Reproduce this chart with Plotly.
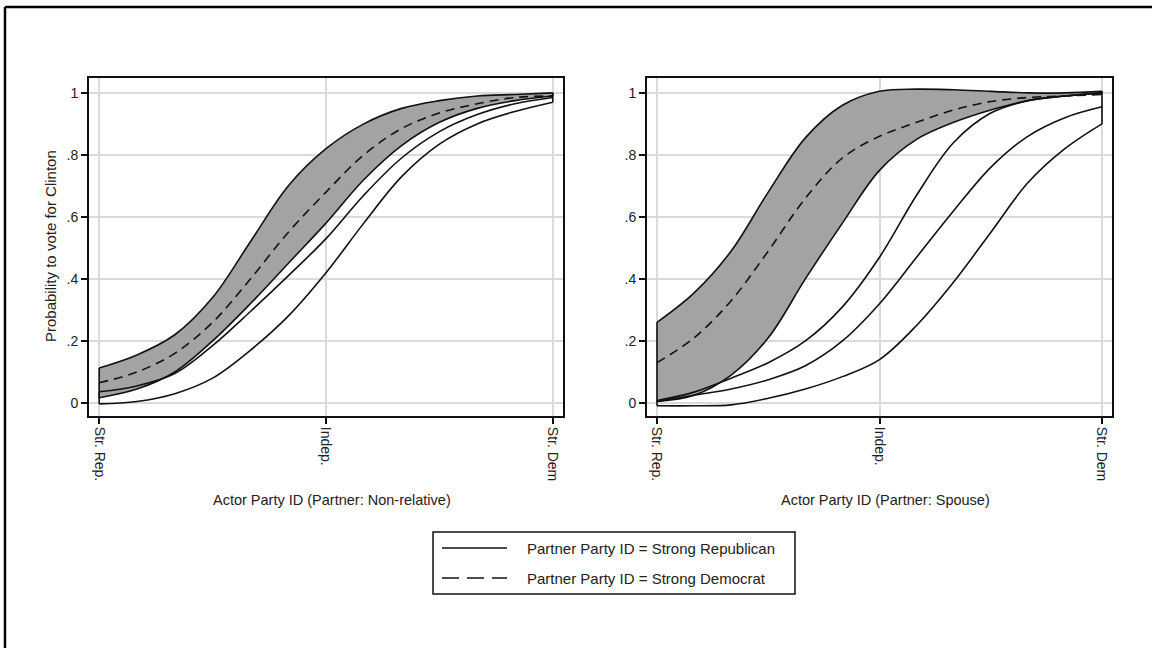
import plotly.graph_objects as go

W, H = 1154, 648

# Actor party ID grid (1 = Str. Rep., 4 = Indep., 7 = Str. Dem)
x_vals = [1, 1.5, 2, 2.5, 3, 3.5, 4, 4.5, 5, 5.5, 6, 6.5, 7]
tick_vals = [1, 4, 7]
tick_text = ["Str. Rep.", "Indep.", "Str. Dem"]
y_ticks = [0, 0.2, 0.4, 0.6, 0.8, 1]
y_tick_text = ["0", ".2", ".4", ".6", ".8", "1"]

# Panel 1: Partner = Non-relative
nr_dem_upper = [0.113, 0.155, 0.22, 0.34, 0.52, 0.70, 0.82, 0.90, 0.95, 0.975, 0.99, 0.995, 1.0]
nr_dem_mid = [0.065, 0.10, 0.16, 0.26, 0.40, 0.55, 0.68, 0.80, 0.885, 0.935, 0.965, 0.985, 0.99]
nr_dem_lower = [0.017, 0.045, 0.10, 0.20, 0.32, 0.45, 0.58, 0.72, 0.83, 0.905, 0.95, 0.975, 0.99]
nr_rep_upper = [0.036, 0.055, 0.095, 0.185, 0.295, 0.41, 0.53, 0.67, 0.79, 0.875, 0.93, 0.965, 0.985]
nr_rep_lower = [-0.003, 0.005, 0.03, 0.08, 0.17, 0.28, 0.42, 0.58, 0.73, 0.835, 0.90, 0.94, 0.97]

# Panel 2: Partner = Spouse
sp_dem_upper = [0.26, 0.355, 0.49, 0.68, 0.855, 0.96, 1.005, 1.012, 1.01, 1.005, 1.0, 1.0, 1.005]
sp_dem_mid = [0.13, 0.21, 0.33, 0.49, 0.66, 0.79, 0.86, 0.905, 0.945, 0.972, 0.985, 0.99, 0.995]
sp_dem_lower = [0.005, 0.025, 0.09, 0.21, 0.40, 0.58, 0.75, 0.85, 0.905, 0.945, 0.975, 0.99, 1.0]
sp_rep_upper = [0.008, 0.035, 0.08, 0.13, 0.20, 0.31, 0.47, 0.67, 0.84, 0.935, 0.975, 0.99, 1.0]
sp_rep_mid = [0.005, 0.025, 0.045, 0.075, 0.12, 0.20, 0.32, 0.47, 0.62, 0.76, 0.86, 0.92, 0.955]
sp_rep_lower = [-0.009, -0.009, -0.006, 0.015, 0.045, 0.085, 0.14, 0.25, 0.39, 0.55, 0.71, 0.82, 0.90]

panels = [
    dict(dem=(nr_dem_lower, nr_dem_mid, nr_dem_upper), rep=(nr_rep_lower, None, nr_rep_upper),
         xtitle="Actor Party ID (Partner: Non-relative)"),
    dict(dem=(sp_dem_lower, sp_dem_mid, sp_dem_upper), rep=(sp_rep_lower, sp_rep_mid, sp_rep_upper),
         xtitle="Actor Party ID (Partner: Spouse)"),
]

LINE = "#111111"
GRAY = "#a3a3a3"
GRID = "#dadada"
LW = 1.6
SM = 1.0
FONT_FAMILY = "Liberation Sans, Arial, sans-serif"

fig = go.Figure()

def px_x(p):
    return p / W

def px_y(p):
    return 1 - p / H

domains = [(89, 563), (647, 1112)]
y_top, y_bot = 78, 416

for i, p in enumerate(panels):
    xa = "x" if i == 0 else "x2"
    ya = "y" if i == 0 else "y2"
    lo, mid, up = p["dem"]
    rlo, rmid, rup = p["rep"]
    common = dict(xaxis=xa, yaxis=ya, showlegend=False, hoverinfo="skip")
    # Democrat partner band (gray)
    fig.add_trace(go.Scatter(x=x_vals, y=lo, mode="lines",
                             line=dict(color=LINE, width=LW, shape="spline", smoothing=SM), **common))
    fig.add_trace(go.Scatter(x=x_vals, y=up, mode="lines", fill="tonexty", fillcolor=GRAY,
                             line=dict(color=LINE, width=LW, shape="spline", smoothing=SM), **common))
    fig.add_trace(go.Scatter(x=[x_vals[0], x_vals[0], None, x_vals[-1], x_vals[-1]],
                             y=[lo[0], up[0], None, lo[-1], up[-1]], mode="lines",
                             line=dict(color=LINE, width=LW), **common))
    # Republican partner band (outline)
    fig.add_trace(go.Scatter(x=x_vals, y=rlo, mode="lines",
                             line=dict(color=LINE, width=LW, shape="spline", smoothing=SM), **common))
    fig.add_trace(go.Scatter(x=x_vals, y=rup, mode="lines",
                             line=dict(color=LINE, width=LW, shape="spline", smoothing=SM), **common))
    fig.add_trace(go.Scatter(x=[x_vals[0], x_vals[0], None, x_vals[-1], x_vals[-1]],
                             y=[rlo[0], rup[0], None, rlo[-1], max(rup[-1], up[-1])], mode="lines",
                             line=dict(color=LINE, width=LW), **common))
    if rmid is not None:
        fig.add_trace(go.Scatter(x=x_vals, y=rmid, mode="lines",
                                 line=dict(color=LINE, width=LW, shape="spline", smoothing=SM), **common))
    # Democrat partner estimate (dashed)
    fig.add_trace(go.Scatter(x=x_vals, y=mid, mode="lines",
                             line=dict(color=LINE, width=LW, dash="9px,6px", shape="spline", smoothing=SM),
                             **common))

tick_font = dict(family=FONT_FAMILY, size=14, color="#222222")
title_font = dict(family=FONT_FAMILY, size=14.5, color="#222222")

for i, (l, r) in enumerate(domains):
    xkey = "xaxis" if i == 0 else "xaxis2"
    ykey = "yaxis" if i == 0 else "yaxis2"
    fig.layout[xkey] = dict(
        domain=[px_x(l), px_x(r)], range=[0.865, 7.135], anchor="y" if i == 0 else "y2",
        tickmode="array", tickvals=tick_vals, ticktext=tick_text, tickangle=90,
        ticks="outside", ticklen=6, tickwidth=1.5, tickcolor=LINE,
        showgrid=True, gridcolor=GRID, gridwidth=1.5, zeroline=False,
        showline=True, linecolor=LINE, linewidth=2, mirror=True, tickfont=tick_font,
    )
    fig.layout[ykey] = dict(
        domain=[px_y(y_bot), px_y(y_top)], range=[-0.042, 1.048], anchor="x" if i == 0 else "x2",
        tickmode="array", tickvals=y_ticks, ticktext=y_tick_text,
        ticks="outside", ticklen=6, tickwidth=1.5, tickcolor=LINE,
        showgrid=True, gridcolor=GRID, gridwidth=1.5, zeroline=False,
        showline=True, linecolor=LINE, linewidth=2, mirror=True, tickfont=tick_font,
    )

annotations = [
    dict(text="Probability to vote for Clinton", x=px_x(50), y=px_y(246), xref="paper", yref="paper",
         textangle=-90, showarrow=False, font=dict(family=FONT_FAMILY, size=15, color="#222222"),
         xanchor="center", yanchor="middle"),
]
for (l, r), p in zip(domains, panels):
    annotations.append(dict(text=p["xtitle"], x=px_x((l + r) / 2 + 6), y=px_y(500), xref="paper", yref="paper",
                            showarrow=False, font=title_font, xanchor="center", yanchor="middle"))

legend_labels = ["Partner Party ID = Strong Republican", "Partner Party ID = Strong Democrat"]
legend_rows = [548, 578]
legend_dash = ["solid", "17px,8px"]
shapes = [
    dict(type="rect", xref="paper", yref="paper", x0=px_x(433), x1=px_x(795), y0=px_y(594), y1=px_y(532),
         line=dict(color=LINE, width=1.5), fillcolor="white"),
    # outer frame (top and left)
    dict(type="line", xref="paper", yref="paper", x0=px_x(5), x1=px_x(5), y0=0, y1=px_y(7),
         line=dict(color="black", width=2.5)),
    dict(type="line", xref="paper", yref="paper", x0=px_x(5), x1=px_x(1152), y0=px_y(7), y1=px_y(7),
         line=dict(color="black", width=2.5)),
]
for lab, row, dsh in zip(legend_labels, legend_rows, legend_dash):
    shapes.append(dict(type="line", xref="paper", yref="paper", x0=px_x(442), x1=px_x(507),
                       y0=px_y(row), y1=px_y(row), line=dict(color=LINE, width=1.5, dash=dsh)))
    annotations.append(dict(text=lab, x=px_x(525), y=px_y(row), xref="paper", yref="paper",
                            showarrow=False, xanchor="left", yanchor="middle",
                            font=dict(family=FONT_FAMILY, size=15, color="#222222")))

fig.update_layout(
    width=W, height=H, margin=dict(l=0, r=0, t=0, b=0),
    paper_bgcolor="white", plot_bgcolor="white",
    annotations=annotations, shapes=shapes, showlegend=False,
)

fig.write_html("out.html", config={"displayModeBar": False},
               post_script="document.body.style.margin='0px';document.body.style.padding='0px';")
